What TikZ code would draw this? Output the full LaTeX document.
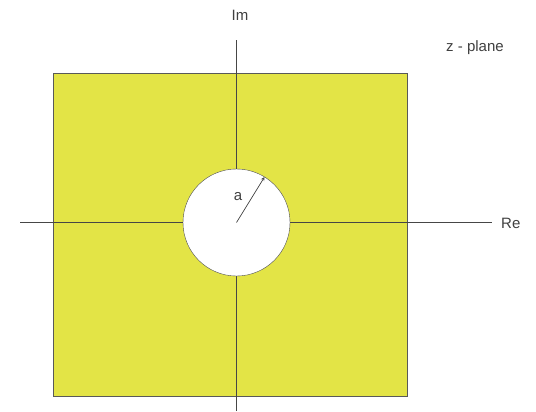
\documentclass[tikz,border=0pt]{standalone}
\usepackage{fontspec}
\setmainfont{Liberation Sans}
\definecolor{planeyellow}{RGB}{227,228,70}
\definecolor{axisgray}{RGB}{70,70,70}
\tikzset{
  axis/.style={line width=1.3pt,axisgray},
  lbl/.style={font=\fontsize{15}{17}\selectfont,text=black!75,inner sep=1pt}
}

\begin{document}
\begin{tikzpicture}[x=1pt,y=-1pt,>=stealth]
\useasboundingbox (0,0) rectangle (536,412);
% plane region
\draw[gray!70!black,fill=planeyellow] (53,73) rectangle (407,396);
% axes
\coordinate (o) at (236.5,222.5);
\coordinate (xl) at (20,222.5);
\coordinate (xr) at (492,222.5);
\coordinate (yt) at (236.5,40);
\coordinate (yb) at (236.5,411);
\draw[axis] (xl) -- (xr);
\draw[axis] (yb) -- (yt);
\node[lbl,anchor=west] (re) at (500,223) {Re};
\node[lbl] (im) at (240,15) {Im};
\node[lbl] (zplane) at (475,48) {z - plane};
% hole
\draw[gray!60!black,fill=white] (o) circle (53.5);
\coordinate (rim) at (264.5,177);
\draw[->,axisgray,line width=0.7pt] (o) -- (rim);
\node[lbl] (a) at (238,197) {a};
\end{tikzpicture}
\end{document}
